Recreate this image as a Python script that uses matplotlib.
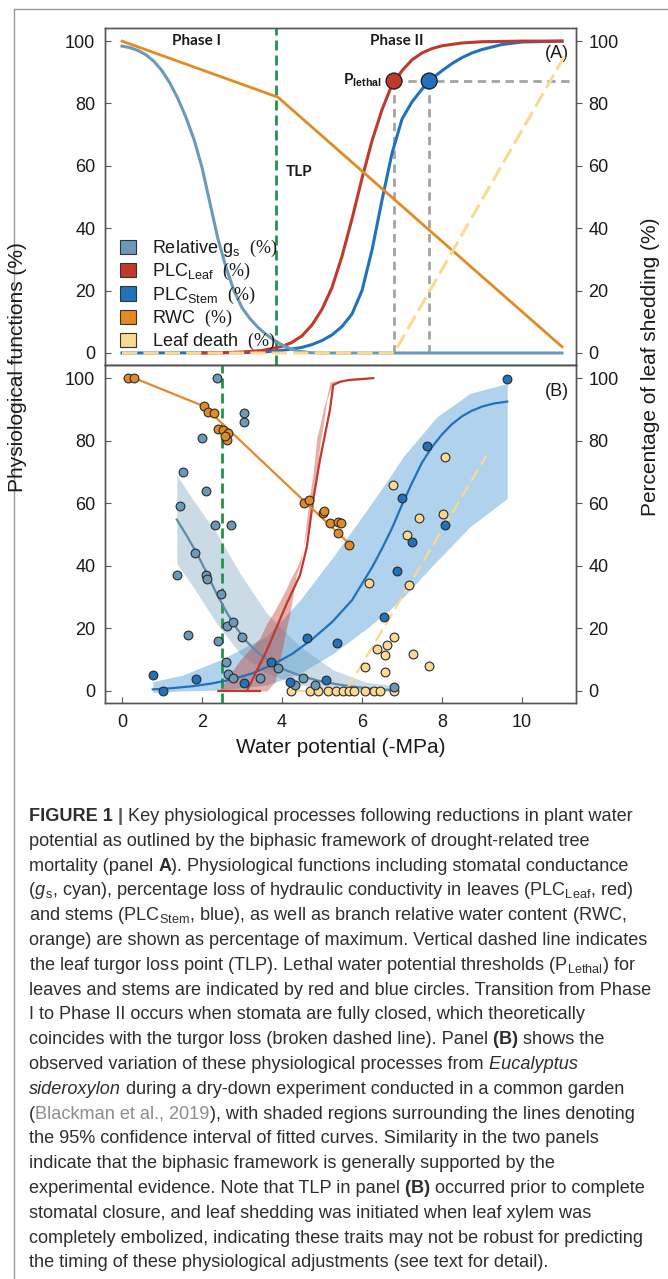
import matplotlib
matplotlib.use("Agg")
import matplotlib.pyplot as plt
from matplotlib.lines import Line2D
from matplotlib.patches import Patch

plt.rcParams["font.family"] = ["Liberation Sans", "DejaVu Sans"]
plt.rcParams["mathtext.fontset"] = "custom"
plt.rcParams["mathtext.rm"] = "Liberation Serif"
plt.rcParams["mathtext.sf"] = "Liberation Sans"
plt.rcParams["mathtext.it"] = "Liberation Sans:italic"
plt.rcParams["mathtext.bf"] = "Liberation Sans:bold"

# ---------------------------
# colours
# ---------------------------
C_GS = "#6a9ab8"
C_LEAF = "#c0392b"
C_STEM = "#1f72bb"
C_RWC = "#e38a24"
C_DEATH = "#fbd98f"
C_TLP = "#24934a"
C_GRAY = "#a3a3a3"

# ---------------------------
# panel A: conceptual curves
# ---------------------------
gs_a_x = [0.0, 0.2, 0.4, 0.6, 0.8, 1.0, 1.2, 1.4, 1.6, 1.8, 2.0, 2.2, 2.4, 2.6,
          2.8, 3.0, 3.2, 3.4, 3.6, 3.8, 4.0, 4.2, 4.4, 4.7, 5.0, 11.0]
gs_a_y = [98.4, 97.9, 97.0, 95.6, 93.5, 90.5, 86.5, 81.5, 75.5, 68.5, 59.5, 48, 36.5, 27.5,
          20, 14.5, 11, 8.2, 6, 4.1, 2.6, 1.4, 0.6, 0.1, 0, 0]

leaf_a_x = [2.0, 2.5, 3.0, 3.5, 4.0, 4.25, 4.5, 4.75, 5.0, 5.25, 5.5, 5.75, 6.0,
            6.25, 6.5, 6.75, 7.0, 7.25, 7.5, 7.75, 8.0, 8.5, 9.0, 10.0, 11.0]
leaf_a_y = [0, 0.1, 0.3, 0.8, 2.1, 3.4, 5.5, 9, 14, 21, 31, 43, 56,
            68, 78, 86, 90.5, 94, 96.2, 97.6, 98.5, 99.4, 99.8, 100, 100]

stem_a_x = [0.0, 3.0, 3.5, 4.0, 4.5, 4.75, 5.0, 5.25, 5.5, 5.75, 6.0, 6.25, 6.5,
            6.75, 7.0, 7.25, 7.5, 7.75, 8.0, 8.25, 8.5, 8.75, 9.0, 9.5, 10.0, 11.0]
stem_a_y = [0, 0.1, 0.3, 0.8, 1.8, 2.7, 4, 5.8, 8.5, 12.5, 20, 33, 49,
            64, 75, 80.5, 84.6, 88, 90.5, 92.8, 94.7, 96.2, 97.3, 98.9, 99.7, 100]

rwc_a_x = [0.0, 3.9, 11.0]
rwc_a_y = [100, 82, 2]

death_a_x = [0.0, 6.8, 11.1]
death_a_y = [0, 0, 96]

tlp_a = 3.85
lethal_x = [6.8, 7.68]
lethal_y = [87.2, 87.2]
lethal_right = 11.2

# ---------------------------
# panel B: observations (Eucalyptus sideroxylon)
# ---------------------------
rwc_b_x = [0.14, 0.31, 2.06, 2.14, 2.31, 2.41, 2.53, 2.66, 2.62, 2.58,
           4.56, 4.68, 5.02, 5.05, 5.2, 5.41, 5.47, 5.41, 5.68]
rwc_b_y = [100, 100, 91, 89.2, 88.7, 83.9, 83.4, 82.5, 80.2, 81.5,
           60.2, 61, 56.8, 57.6, 53.6, 53.9, 53.6, 50.4, 46.8]
rwc_fit_x = [0.31, 2.05, 5.72]
rwc_fit_y = [100, 91, 46.6]

gs_b_x = [2.37, 3.05, 3.05, 1.99, 1.52, 2.09, 1.45, 2.33, 2.73, 1.83, 1.37, 2.1,
          2.12, 2.47, 2.62, 2.77, 1.66, 2.99, 2.39, 2.6, 2.66, 2.78, 3.45, 3.91,
          4.33, 4.52, 4.83, 6.81]
gs_b_y = [100, 88.9, 86, 81, 69.9, 64, 59.1, 53, 53, 44.2, 37.1, 37.1,
          35.8, 30.9, 20.9, 21.9, 17.9, 17.2, 16, 9.1, 5.3, 4, 4, 7.2,
          1.9, 4, 1.9, 1.4]
gs_fit_x = [1.37, 1.6, 1.85, 2.1, 2.35, 2.6, 2.85, 3.1, 3.4, 3.7, 4.0, 4.45, 4.9,
            5.3, 5.7, 6.1, 6.5, 6.8]
gs_fit_y = [54.8, 50, 44.5, 38.2, 31.5, 25.5, 20.3, 16, 12.2, 9.3, 7.1, 4.9, 3.3,
            2.3, 1.5, 0.9, 0.5, 0.3]
gs_ci_x = [1.37, 1.78, 2.37, 2.95, 3.62, 4.45, 5.28, 6.12, 6.8]
gs_ci_hi = [69, 61, 50.4, 37.6, 24.8, 14.2, 6.7, 2.7, 1.8]
gs_ci_lo = [40.7, 33.3, 21.5, 12, 5.6, 1.9, 0.3, -0.1, -0.2]

stem_b_x = [0.77, 1.02, 1.85, 3.05, 3.72, 4.63, 5.38, 4.2, 5.1, 6.55, 6.88, 7.24,
            6.99, 8.08, 7.63, 9.63]
stem_b_y = [5.1, 0, 3.7, 2.7, 9.1, 16.8, 15.4, 3, 3.5, 23.7, 38.3, 47.7,
            61.8, 53, 78.3, 99.7]
stem_fit_x = [0.77, 1.25, 1.75, 2.25, 2.75, 3.25, 3.75, 4.25, 4.75, 5.25, 5.75, 6.25,
              6.5, 6.75, 7.0, 7.25, 7.5, 7.75, 8.0, 8.25, 8.5, 8.75, 9.0, 9.3, 9.63]
stem_fit_y = [0.5, 0.9, 1.5, 2.4, 3.7, 5.6, 8.3, 11.8, 16.5, 22, 29, 39.5,
              45.5, 52, 59.5, 66.5, 73, 78, 82, 85.3, 87.8, 89.6, 90.9, 91.9, 92.5]
stem_ci_x = [0.77, 1.5, 2.45, 3.62, 4.45, 5.28, 6.12, 6.7, 7.03, 7.87, 8.7, 9.63]
stem_ci_hi = [3, 5, 9.9, 17.5, 29, 42.9, 57.8, 68.5, 74.9, 87.6, 95.1, 98.3]
stem_ci_lo = [-0.5, 0, 0.3, 1.9, 5.6, 12, 20, 26, 30, 41.5, 52.5, 61.5]

leaf_fit_x = [2.41, 3.12, 3.62, 4.12, 4.45, 4.62, 4.78, 4.95, 5.2, 5.28, 5.45,
              5.66, 6.28]
leaf_fit_y = [0, 0, 13, 28, 37, 46, 61, 74, 90, 97.8, 98.8, 99.4, 100]
leaf_base_x = [3.12, 3.45]
leaf_base_y = [0, 0]
leaf_ci_x = [2.41, 2.95, 3.45, 3.62, 3.83, 4.12, 4.2, 4.37, 4.45, 4.53, 4.7,
             4.78, 4.87, 4.95, 5.03, 5.12, 5.2, 5.28, 5.45, 6.1]
leaf_ci_hi = [0, 9.9, 17, 21.6, 26, 33, 35.5, 39.5, 42, 46, 63,
              70, 81, 85, 90, 94, 98.8, 99, 99.4, 100]
leaf_ci_lo = [0, 0, 0, 0, 3, 20.5, 25, 37.6, 40, 46, 55,
              61, 70, 79, 85, 93, 96, 98.3, 99, 99.6]

death_b_x = [6.77, 8.08, 7.43, 8.03, 7.12, 7.18, 6.18, 6.8, 6.62, 6.37, 6.58, 7.27,
             7.68, 6.58, 6.08, 4.23, 4.7, 4.89, 5.16, 5.35, 5.53, 5.68, 5.81, 6.08,
             6.3, 6.45, 6.8]
death_b_y = [65.8, 74.7, 55.4, 56.5, 49.8, 33.9, 34.6, 17.4, 14.7, 13.3, 11.5, 11.7,
             8, 6.2, 7.8, 0, 0, 0, 0, 0, 0, 0, 0, 0,
             0, 0, 0]
death_fit_x = [4.25, 5.6, 9.1]
death_fit_y = [0, 0, 75]

tlp_b = 2.49

yticks = [0, 20, 40, 60, 80, 100]
xticks = [0, 2, 4, 6, 8, 10]

legend_labels = [
    r"Relative g$_\mathsf{s}$  $\mathrm{(\%)}$",
    r"PLC$_\mathsf{Leaf}$  $\mathrm{(\%)}$",
    r"PLC$_\mathsf{Stem}$  $\mathrm{(\%)}$",
    r"RWC  $\mathrm{(\%)}$",
    r"Leaf death  $\mathrm{(\%)}$",
]
legend_colors = [C_GS, C_LEAF, C_STEM, C_RWC, C_DEATH]

caption = [
    [("FIGURE 1", {"weight": "bold"}), (" |", {"weight": "bold", "color": "#555555"}),
     (" Key physiological processes following reductions in plant water", {})],
    [("potential as outlined by the biphasic framework of drought-related tree", {})],
    [("mortality (panel ", {}), ("A", {"weight": "bold"}),
     ("). Physiological functions including stomatal conductance", {})],
    [("(", {}), ("g", {"style": "italic"}),
     (r"${}_\mathsf{s}$, cyan), percentage loss of hydraulic conductivity in leaves (PLC$_\mathsf{Leaf}$, red)", {})],
    [(r"and stems (PLC$_\mathsf{Stem}$, blue), as well as branch relative water content (RWC,", {})],
    [("orange) are shown as percentage of maximum. Vertical dashed line indicates", {})],
    [(r"the leaf turgor loss point (TLP). Lethal water potential thresholds (P$_\mathsf{Lethal}$) for", {})],
    [("leaves and stems are indicated by red and blue circles. Transition from Phase", {})],
    [("I to Phase II occurs when stomata are fully closed, which theoretically", {})],
    [("coincides with the turgor loss (broken dashed line). Panel", {}), (" (B)", {"weight": "bold"}),
     (" shows the", {})],
    [("observed variation of these physiological processes from", {}), (" Eucalyptus", {"style": "italic"})],
    [("sideroxylon", {"style": "italic"}), (" during a dry-down experiment conducted in a common garden", {})],
    [("(", {}), ("Blackman et al., 2019", {"color": "#8c8c8c"}),
     ("), with shaded regions surrounding the lines denoting", {})],
    [("the 95% confidence interval of fitted curves. Similarity in the two panels", {})],
    [("indicate that the biphasic framework is generally supported by the", {})],
    [("experimental evidence. Note that TLP in panel", {}), (" (B)", {"weight": "bold"}),
     (" occurred prior to complete", {})],
    [("stomatal closure, and leaf shedding was initiated when leaf xylem was", {})],
    [("completely embolized, indicating these traits may not be robust for predicting", {})],
    [("the timing of these physiological adjustments (see text for detail).", {})],
]

W, H = 668, 1279
TXT = "#1a1a1a"
SPINE = "#555555"
BOLD_FONT = ["Lato", "Liberation Sans"]


def ax_rect(left, top, right, bottom):
    return [left / W, 1 - bottom / H, (right - left) / W, (bottom - top) / H]


def style_axes(ax):
    ax.set_xlim(-0.425, 11.35)
    ax.set_ylim(-3.85, 104.2)
    ax.set_yticks(yticks)
    ax.tick_params(axis="y", direction="in", length=4, width=0.8, color=SPINE,
                   labelsize=13, pad=7, labelcolor=TXT)
    for s in ax.spines.values():
        s.set_color(SPINE)
        s.set_linewidth(1.0)
    twin = ax.twinx()
    twin.set_ylim(ax.get_ylim())
    twin.set_yticks(yticks)
    twin.tick_params(axis="y", direction="out", length=4, width=0.8, color=SPINE,
                     labelsize=13, pad=5, labelcolor=TXT)
    for s in twin.spines.values():
        s.set_color(SPINE)
        s.set_linewidth(1.0)
    return twin


fig = plt.figure(figsize=(W / 100, H / 100), dpi=100)

ax_a = fig.add_axes(ax_rect(105, 28, 576, 365))
ax_b = fig.add_axes(ax_rect(105, 365, 576, 703))
tw_a = style_axes(ax_a)
tw_b = style_axes(ax_b)
ax_a.tick_params(axis="x", bottom=False, labelbottom=False)
ax_b.set_xticks(xticks)
ax_b.tick_params(axis="x", direction="in", length=4, width=0.8, color=SPINE,
                 labelsize=13, pad=8, labelcolor=TXT)

# ---------------------------
# panel A
# ---------------------------
ax_a.plot(stem_a_x, stem_a_y, color=C_STEM, lw=2.2, zorder=3)
ax_a.plot(leaf_a_x, leaf_a_y, color=C_LEAF, lw=2.2, zorder=3)
ax_a.plot(gs_a_x, gs_a_y, color=C_GS, lw=2.2, zorder=3)
ax_a.plot(rwc_a_x, rwc_a_y, color=C_RWC, lw=2.0, zorder=3)
ax_a.plot(death_a_x, death_a_y, color=C_DEATH, lw=2.2, dashes=(5, 2), zorder=4)
ax_a.axvline(tlp_a, color=C_TLP, lw=2.0, dashes=(3.6, 1.8), zorder=2)

for lx, ly in zip(lethal_x, lethal_y):
    ax_a.plot([lx, lx], [0, ly], color=C_GRAY, lw=2.0, dashes=(3, 2), zorder=2)
ax_a.plot([lethal_x[0], lethal_right], [lethal_y[0], lethal_y[0]], color=C_GRAY,
          lw=2.0, dashes=(3, 2), zorder=2)
ax_a.scatter(lethal_x, lethal_y, s=130, c=[C_LEAF, C_STEM], edgecolors="#222222",
             linewidths=1.0, zorder=6)

ax_a.text(1.87, 100, "Phase I", family=BOLD_FONT, weight="bold", fontsize=11,
          ha="center", va="center", color=TXT)
ax_a.text(6.88, 100, "Phase II", family=BOLD_FONT, weight="bold", fontsize=11,
          ha="center", va="center", color=TXT)
ax_a.text(4.1, 58, "TLP", family=BOLD_FONT, weight="bold", fontsize=11,
          ha="left", va="center", color=TXT)
ax_a.text(6.5, 87.5, r"P$_\mathbf{lethal}$", family=BOLD_FONT, weight="bold",
          fontsize=11, ha="right", va="center", color=TXT)
ax_a.text(10.87, 96, "(A)", fontsize=13, ha="center", va="center", color=TXT)

handles = [Patch(facecolor=c, edgecolor="#333333", linewidth=0.8) for c in legend_colors]
ax_a.legend(handles, legend_labels, loc="lower left", bbox_to_anchor=(0.006, 0.0),
            frameon=False, fontsize=13, handlelength=0.85, handleheight=0.85,
            handletextpad=0.9, labelspacing=0.12, borderpad=0.2, labelcolor=TXT)

# ---------------------------
# panel B
# ---------------------------
ax_b.fill_between(stem_ci_x, stem_ci_lo, stem_ci_hi, color="#3a8fd0", alpha=0.4,
                  lw=0, zorder=1)
ax_b.fill_between(gs_ci_x, gs_ci_lo, gs_ci_hi, color=C_GS, alpha=0.35, lw=0, zorder=1)
ax_b.fill_between(leaf_ci_x, leaf_ci_lo, leaf_ci_hi, color=C_LEAF, alpha=0.4, lw=0,
                  zorder=1)
ax_b.axvline(tlp_b, color=C_TLP, lw=2.0, dashes=(3.6, 1.8), zorder=2)

ax_b.plot(stem_fit_x, stem_fit_y, color=C_STEM, lw=1.6, zorder=3)
ax_b.plot(gs_fit_x, gs_fit_y, color="#5d8aa8", lw=1.6, zorder=3)
ax_b.plot(leaf_fit_x, leaf_fit_y, color=C_LEAF, lw=1.6, zorder=3)
ax_b.plot(leaf_base_x, leaf_base_y, color=C_LEAF, lw=1.6, zorder=3)
ax_b.plot(rwc_fit_x, rwc_fit_y, color=C_RWC, lw=1.6, zorder=3)
ax_b.plot(death_fit_x, death_fit_y, color=C_DEATH, lw=1.6, dashes=(6, 2.4), zorder=3)

pt = dict(s=40, edgecolors="#2a2a2a", linewidths=0.8, zorder=5)
ax_b.scatter(death_b_x, death_b_y, color=C_DEATH, **pt)
ax_b.scatter(gs_b_x, gs_b_y, color=C_GS, **pt)
ax_b.scatter(stem_b_x, stem_b_y, color=C_STEM, **pt)
ax_b.scatter(rwc_b_x, rwc_b_y, color=C_RWC, **pt)

ax_b.text(10.87, 95.6, "(B)", fontsize=13, ha="center", va="center", color=TXT)
ax_b.set_xlabel("Water potential (-MPa)", fontsize=15, labelpad=5, color=TXT)

fig.text(18 / W, 1 - 367 / H, "Physiological functions (%)", rotation=90,
         fontsize=15, ha="center", va="center", color=TXT)
fig.text(651 / W, 1 - 367 / H, "Percentage of leaf shedding (%)", rotation=90,
         fontsize=15, ha="center", va="center", color=TXT)

# page frame
fig.add_artist(Line2D([14 / W, 14 / W], [1 - 9 / H, 0], color="#9a9a9a", lw=1.0,
                      transform=fig.transFigure))
fig.add_artist(Line2D([14 / W, 1], [1 - 9 / H, 1 - 9 / H], color="#9a9a9a", lw=1.0,
                      transform=fig.transFigure))

# ---------------------------
# caption
# ---------------------------
renderer = fig.canvas.get_renderer()
cap_base = {"family": ["Liberation Sans", "DejaVu Sans"], "color": "#2e2e2e"}


def put_line(y_px, pieces, size, x0=29):
    x_px = x0
    made = []
    for txt, extra in pieces:
        kw = {**cap_base, **extra}
        t = fig.text(x_px / W, 1 - y_px / H, txt, fontsize=size, ha="left",
                     va="baseline", **kw)
        x_px += t.get_window_extent(renderer).width
        made.append(t)
    return x_px - x0, made


probe_w, probes = put_line(0, caption[0], 12)
for t in probes:
    t.remove()
cap_size = 12 * 605 / probe_w

for i, pieces in enumerate(caption):
    put_line(821 + i * 24.8, pieces, cap_size)

fig.savefig("out.png", dpi=100)
